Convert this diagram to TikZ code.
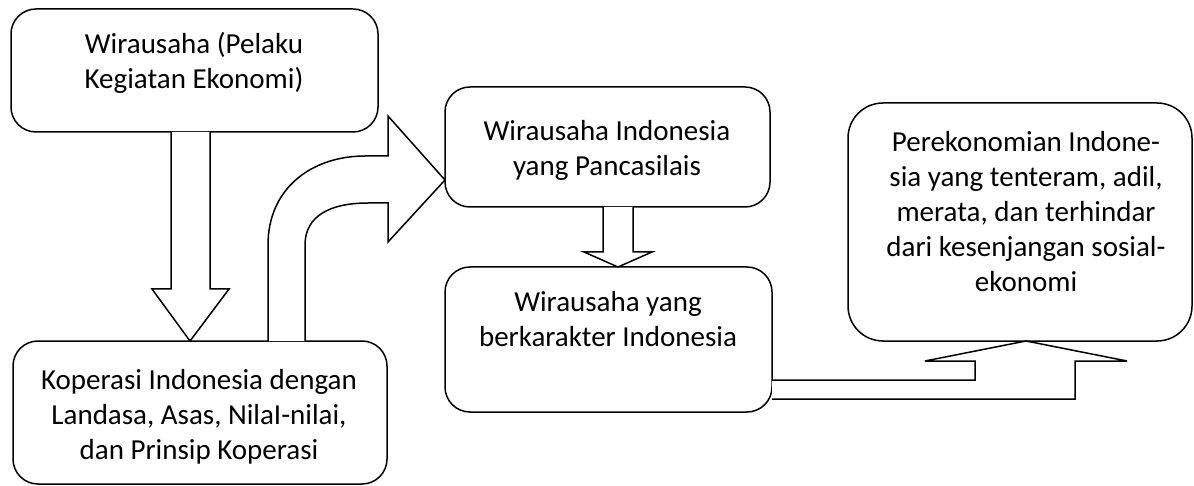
\documentclass[tikz,border=0pt]{standalone}
\usepackage{fontspec}
\setmainfont{Carlito}
\begin{document}
\begin{tikzpicture}[x=1pt,y=-1pt,
  box/.style={draw,line width=1.5pt,rounded corners=25pt,inner sep=0pt},
  txt/.style={align=center,font=\fontsize{29}{35}\selectfont,inner sep=0pt},
  bigarrow/.style={draw,line width=1.5pt,fill=white,line join=miter}]
\useasboundingbox (0,0) rectangle (1194,486);
% boxes
\node[box,minimum width=367pt,minimum height=123pt] (A) at (194.5,70.5) {};
\node[box,minimum width=374pt,minimum height=143pt] (B) at (200,412.5) {};
\node[box,minimum width=325pt,minimum height=120pt] (C) at (607.5,147) {};
\node[box,minimum width=327pt,minimum height=145pt] (D) at (608.5,339.5) {};
\node[box,rounded corners=35pt,minimum width=344pt,minimum height=238pt] (E) at (1020,222) {};
% texts
\node[txt] (tA) at (194,63) {Wirausaha (Pelaku\\Kegiatan Ekonomi)};
\node[txt] (tB) at (199,417) {Koperasi Indonesia dengan\\Landasa, Asas, NilaI-nilai,\\dan Prinsip Koperasi};
\node[txt] (tC) at (607,150) {Wirausaha Indonesia\\yang Pancasilais};
\node[txt] (tD) at (608,319) {Wirausaha yang\\berkarakter Indonesia};
\node[txt] (tE) at (1026,212) {Perekonomian Indone-\\sia yang tenteram, adil,\\merata, dan terhindar\\dari kesenjangan sosial-\\ekonomi};
% arrow A -> B
\draw[bigarrow] (171,132) -- (171,289) -- (152,289) -- (190,341) -- (229,289) -- (210,289) -- (210,132);
% bent arrow B -> C
\draw[bigarrow] (268,341) -- (268,245) .. controls (268,188) and (312,156) .. (365,156) -- (388,156)
  -- (388,116) -- (445,180) -- (388,242) -- (388,203) -- (368,203)
  .. controls (330,203) and (305,216) .. (305,245) -- (305,341);
% arrow C -> D
\draw[bigarrow] (603,207) -- (603,252) -- (584,252) -- (618,267) -- (652,252) -- (633,252) -- (633,207);
% arrow D -> E
\draw[bigarrow] (772,380) -- (975,380) -- (975,361) -- (925,361) -- (1026,341) -- (1127,361) -- (1075,361) -- (1075,399) -- (772,399);
\end{tikzpicture}
\end{document}
